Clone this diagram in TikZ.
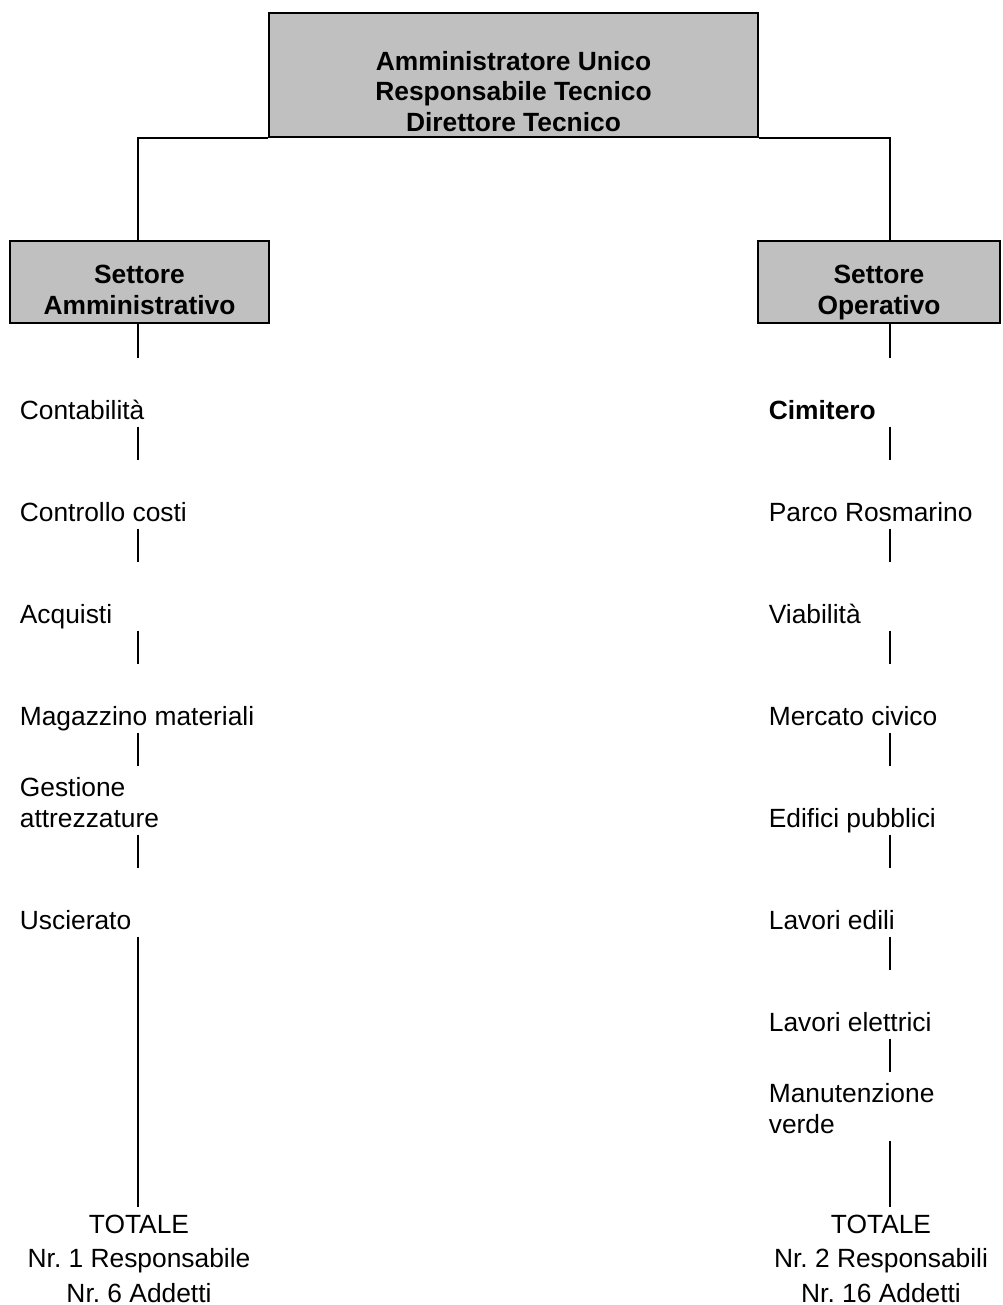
\documentclass[tikz,border=0pt]{standalone}
\usepackage{fontspec}
\setmainfont{Liberation Sans}
\definecolor{boxgray}{RGB}{192,192,192}
\frenchspacing

\begin{document}
\begin{tikzpicture}[x=0.02cm, y=-0.02cm, line width=1pt,
                    headbox/.style={rectangle, draw, fill=boxgray, inner sep=0pt, align=center,
                                    font=\bfseries\fontsize{15}{17.4}\selectfont},
                    item/.style={anchor=base west, inner sep=0pt, align=left, font=\fontsize{15}{17.4}\selectfont},
                    total/.style={anchor=base, align=center, inner xsep=0pt, inner ysep=0.15cm,
                                  font=\fontsize{15}{19.4}\selectfont},
                    link/.style={shorten <=0.14cm, shorten >=1.24cm}]
  \useasboundingbox (0,0) rectangle (1002,1305);
  \coordinate (lcol) at (138,0);
  \coordinate (rcol) at (890,0);
  \node[headbox, minimum width=9.78cm, text height=2.37cm, text depth=0.11cm] (au) at (513.5,75) {Amministratore Unico\\Responsabile Tecnico\\Direttore Tecnico};
  \node[headbox, minimum width=5.18cm, text height=1.47cm, text depth=0.17cm] (sa) at (139.5,282) {Settore\\Amministrativo};
  \node[headbox, minimum width=4.84cm, text height=1.47cm, text depth=0.17cm] (so) at (879,282) {Settore\\Operativo};
  \draw (au.south west) -| (lcol |- sa.north);
  \draw (au.south east) -| (rcol |- so.north);

  \node[item] (cont) at (19,419.5) {Contabilità};
  \node[item] (ctrl) at (19,521.5) {Controllo costi};
  \node[item] (acq) at (19,623.5) {Acquisti};
  \node[item] (mag) at (19,725.5) {Magazzino materiali};
  \node[item] (gest) at (19,827.5) {Gestione\\attrezzature};
  \node[item] (usc) at (19,929.5) {Uscierato};
  \node[total] (ltot) at (139,1302) {TOTALE\\Nr. 1 Responsabile\\Nr. 6 Addetti};
  \draw[link, shorten <=0pt] (sa.south -| lcol) -- (lcol |- cont.base);
  \draw[link] (lcol |- cont.base) -- (lcol |- ctrl.base);
  \draw[link] (lcol |- ctrl.base) -- (lcol |- acq.base);
  \draw[link] (lcol |- acq.base) -- (lcol |- mag.base);
  \draw[link] (lcol |- mag.base) -- (lcol |- gest.base);
  \draw[link] (lcol |- gest.base) -- (lcol |- usc.base);
  \draw[link, shorten >=0pt] (lcol |- usc.base) -- (lcol |- ltot.north);

  \node[item] (cim) at (768,419.5) {\bfseries Cimitero};
  \node[item] (parco) at (768,521.5) {Parco Rosmarino};
  \node[item] (viab) at (768,623.5) {Viabilità};
  \node[item] (merc) at (768,725.5) {Mercato civico};
  \node[item] (edif) at (768,827.5) {Edifici pubblici};
  \node[item] (edili) at (768,929.5) {Lavori edili};
  \node[item] (elet) at (768,1031.5) {Lavori elettrici};
  \node[item] (verde) at (768,1133.5) {Manutenzione\\verde};
  \node[total] (rtot) at (881,1302) {TOTALE\\Nr. 2 Responsabili\\Nr. 16 Addetti};
  \draw[link, shorten <=0pt] (so.south -| rcol) -- (rcol |- cim.base);
  \draw[link] (rcol |- cim.base) -- (rcol |- parco.base);
  \draw[link] (rcol |- parco.base) -- (rcol |- viab.base);
  \draw[link] (rcol |- viab.base) -- (rcol |- merc.base);
  \draw[link] (rcol |- merc.base) -- (rcol |- edif.base);
  \draw[link] (rcol |- edif.base) -- (rcol |- edili.base);
  \draw[link] (rcol |- edili.base) -- (rcol |- elet.base);
  \draw[link] (rcol |- elet.base) -- (rcol |- verde.base);
  \draw[link, shorten >=0pt] (rcol |- verde.base) -- (rcol |- rtot.north);
\end{tikzpicture}
\end{document}
